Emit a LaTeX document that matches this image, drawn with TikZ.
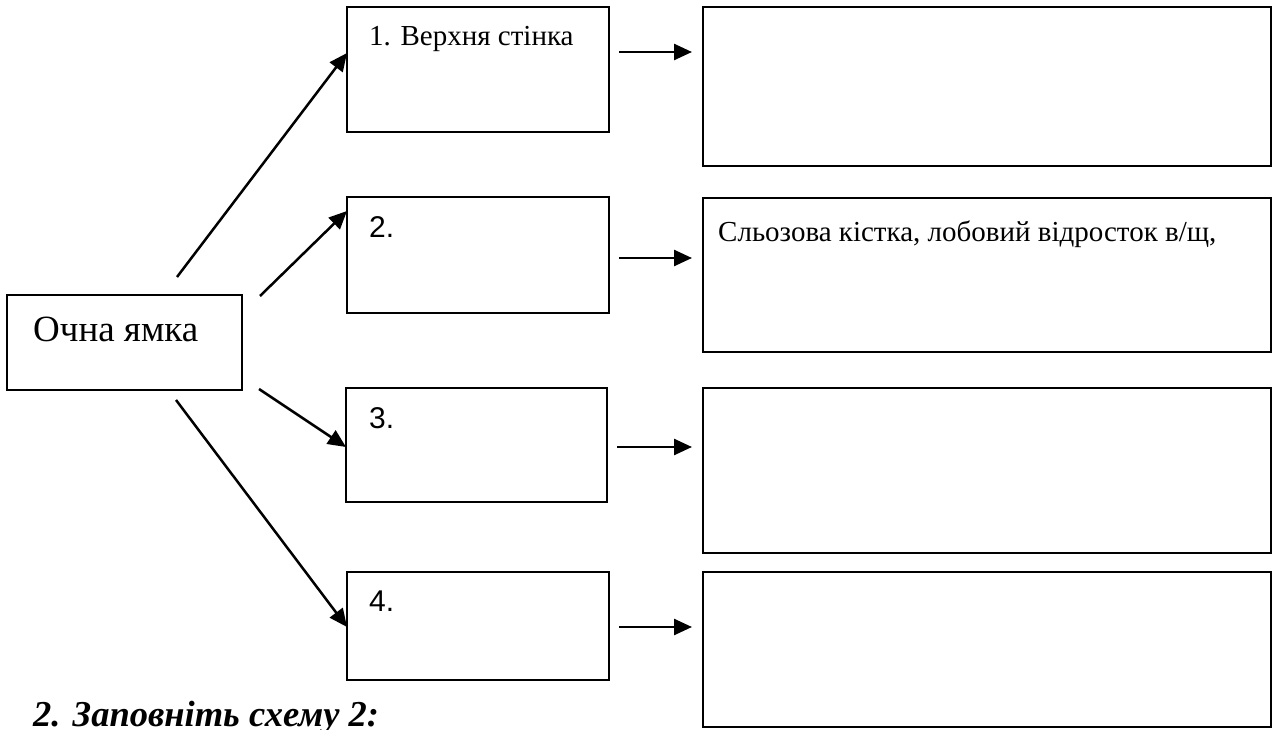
\documentclass[tikz,border=0pt]{standalone}
\usepackage{fontspec}
\setmainfont{Liberation Serif}
\newfontfamily\arialfont{Liberation Sans}
\usepackage{tikz}
\usetikzlibrary{arrows.meta,calc,positioning}
\definecolor{ink}{HTML}{000000}
\tikzset{box/.style={draw=ink,line width=2.6pt,inner sep=0pt,outer sep=0pt,anchor=north west},flow/.style={-{Triangle[length=18pt,width=16pt]},draw=ink,line width=2.5pt},serif/.style={font=\fontsize{29}{34}\selectfont,anchor=base west,inner sep=0pt},sans/.style={font=\arialfont\fontsize{30}{35}\selectfont,anchor=base west,inner sep=0pt}}
\begin{document}
\begin{tikzpicture}[x=1pt,y=-1pt]
 \useasboundingbox (0,0) rectangle (1275,730);
 \node[box,minimum width=235pt,minimum height=95pt] (orbit) at (7,295) {};
 \node[box,minimum width=262pt,minimum height=125pt] (wall1) at (347,7) {};
 \node[box,minimum width=262pt,minimum height=116pt] (wall2) at (347,197) {};
 \node[box,minimum width=261pt,minimum height=114pt] (wall3) at (346,388) {};
 \node[box,minimum width=262pt,minimum height=108pt] (wall4) at (347,572) {};
 \node[box,minimum width=568pt,minimum height=159pt] (bone1) at (703,7) {};
 \node[box,minimum width=568pt,minimum height=154pt] (bone2) at (703,198) {};
 \node[box,minimum width=568pt,minimum height=165pt] (bone3) at (703,388) {};
 \node[box,minimum width=568pt,minimum height=155pt] (bone4) at (703,572) {};
 \node[serif,font=\fontsize{37}{44}\selectfont] (orbittext) at (33,341) {Очна ямка};
 \node[serif] (walltext1) at (369,46) {1. Верхня стінка};
 \node[sans] (walltext2) at (369,238) {2.}; \node[sans] (walltext3) at (369,428) {3.}; \node[sans] (walltext4) at (369,611) {4.};
 \node[serif] (bonetext2) at (718,242) {Сльозова кістка, лобовий відросток в/щ,};
 \node[serif,font=\fontsize{36.5}{44}\selectfont\bfseries\itshape] (task) at (33,726) {2. Заповніть схему 2:};
 \coordinate (t1) at (177,277); \coordinate (t2) at (260,296); \coordinate (t3) at (259,389); \coordinate (t4) at (176,400);
 \foreach \i/\y in {1/53,2/211,3/447,4/627} \draw[flow] (t\i) -- (wall\i.west |- 0,\y);
 \foreach \i/\y in {1/52,2/258,3/447,4/627} \draw[flow,shorten <=10pt,shorten >=11pt] (wall\i.east |- 0,\y) -- (bone\i.west |- 0,\y);
\end{tikzpicture}
\end{document}
